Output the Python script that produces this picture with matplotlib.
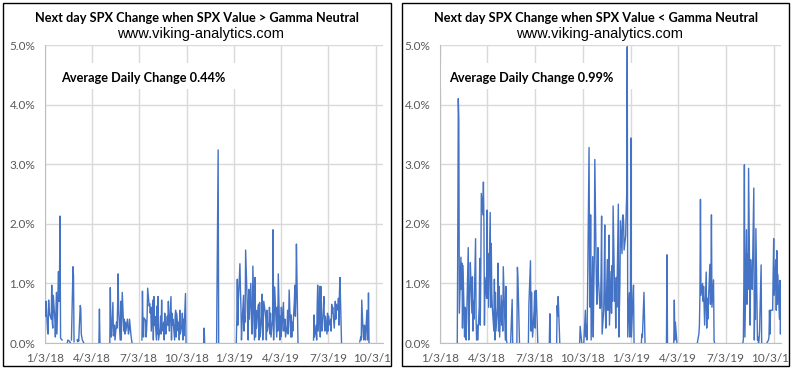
import numpy as np
import pandas as pd
import matplotlib
matplotlib.use('Agg')
import matplotlib.pyplot as plt
from matplotlib.patches import Rectangle
from matplotlib.transforms import Bbox, TransformedBbox

# axis setup
tick_dates = ['2018-01-03', '2018-04-03', '2018-07-03', '2018-10-03',
              '2019-01-03', '2019-04-03', '2019-07-03', '2019-10-03']
tick_labels = ['1/3/18', '4/3/18', '7/3/18', '10/3/18',
               '1/3/19', '4/3/19', '7/3/19', '10/3/19']
x_start, x_end = '2018-01-03', '2019-10-17'

titles = ['Next day SPX Change when SPX Value > Gamma Neutral',
          'Next day SPX Change when SPX Value < Gamma Neutral']
subtitle = 'www.viking-analytics.com'
notes = ['Average Daily Change 0.44%', 'Average Daily Change 0.99%']

# next-day abs change (%) when SPX above gamma neutral, one list per run of days
above_starts = ['2018-01-03', '2018-02-15', '2018-02-23', '2018-03-06', '2018-04-17',
                '2018-05-08', '2018-07-09', '2018-11-05', '2018-11-30', '2019-01-07',
                '2019-06-05', '2019-09-02']
above_vals = [
    [0.64, 0.45, 0.70, 0.20, 0.15, 0.72, 0.55, 0.48, 0.40, 0.97, 0.35, 0.25, 0.80, 0.40,
     0.10, 0.45, 0.85, 0.15, 1.20, 0.70, 1.12, 2.13, 0.08, 0.05],
    [0.0, 0.05, 0.03, 0.02, 0.0],
    [0.05, 1.28, 1.12, 0.02],
    [0.05, 0.02, 0.06, 0.03, 0.63, 0.58, 0.15, 0.10, 0.05, 0.0],
    [0.0, 0.57, 0.0],
    [0.0, 0.93, 0.15, 0.10, 0.68, 0.12, 0.20, 0.30, 0.05, 0.35, 0.25, 0.60, 1.16, 0.55,
     0.05, 0.70, 0.05, 0.40, 0.85, 0.20, 0.40, 0.15, 0.35, 0.20, 0.40, 0.25, 0.15, 0.20,
     0.40, 0.12, 0.05, 0.0],
    [0.05, 0.87, 0.30, 0.10, 0.42, 0.38, 0.10, 0.22, 0.45, 0.92, 0.62, 0.66, 0.50, 0.60,
     0.20, 0.72, 0.05,
     0.78, 0.30, 0.45, 0.05, 0.62, 0.15, 0.78, 0.05, 0.25, 0.45, 0.15, 0.72, 0.20, 0.35,
     0.05, 0.50, 0.25, 0.15, 0.45, 0.30, 0.70, 0.35, 0.20,
     0.78, 0.05, 0.50, 0.30, 0.40, 0.05, 0.45, 0.55, 0.10, 0.50, 0.20, 0.35, 0.05, 0.55,
     0.15, 0.30, 0.50, 0.05, 0.40, 0.12,
     0.83, 0.0],
    [0.0, 0.25, 0.0],
    [0.0, 3.24, 0.0],
    [0.0, 0.40, 1.07, 0.30, 0.70, 1.33, 0.90, 0.60, 0.05, 0.30, 0.80, 0.20, 0.45, 0.35,
     1.56, 0.70, 0.30, 0.05, 0.90, 0.40, 1.00, 0.50, 0.15, 0.30, 1.29, 0.05, 1.10, 0.10,
     0.55, 0.25, 0.60,
     0.65, 0.05, 0.68, 0.10, 0.45, 0.82, 0.05, 0.30, 0.70, 0.50,
     0.40, 0.05, 0.55, 0.20, 0.35, 0.60, 0.15, 0.50, 0.10, 0.40,
     1.90, 0.05, 0.55, 0.94, 0.30, 0.10, 0.60, 0.20, 1.16, 0.05,
     0.45, 0.10, 0.60, 0.20, 0.68, 0.20, 0.25, 0.40, 0.10, 0.30,
     0.55, 0.15, 0.40, 0.89, 0.10, 0.47, 0.10, 0.35, 0.20, 0.70,
     0.97, 0.45, 0.80, 1.66, 0.0],
    [0.05, 0.47, 0.10, 0.30, 0.05, 0.60, 0.97, 0.20, 0.95, 0.10, 0.95, 0.30, 0.20, 0.60,
     0.78, 0.30, 0.20, 0.45, 0.15, 0.50, 0.20, 0.45, 0.30, 0.40, 0.20, 0.65, 0.50, 0.60,
     0.25, 0.45, 0.70, 0.40, 0.65, 0.55, 0.75, 0.30, 0.85, 1.10, 0.0],
    [0.02, 0.05, 0.10, 0.05, 0.72, 0.10, 0.05, 0.30, 0.28, 0.05, 0.55, 0.05, 0.10, 0.84, 0.0],
]

# next-day abs change (%) when SPX below gamma neutral
below_starts = ['2018-02-05', '2018-05-18', '2018-05-30', '2018-06-21', '2018-07-31',
                '2018-08-14', '2018-09-27', '2018-10-05', '2019-01-23', '2019-03-12',
                '2019-03-26', '2019-05-10', '2019-08-05', '2019-09-20']
below_vals = [
    [0.0, 1.80, 4.10, 3.75, 0.50, 1.44, 0.90, 1.34, 0.25, 1.30, 0.10, 0.60, 0.55, 0.05,
     0.40, 1.60, 0.05, 0.45, 0.90, 1.35, 0.50, 1.11, 0.20, 0.70, 0.40, 1.75, 0.40, 0.05,
     0.30, 0.05, 0.60, 1.42, 0.30, 1.20, 2.51, 2.15, 2.70, 2.00, 0.30, 1.10, 0.75, 2.23,
     0.75, 1.50, 0.60, 2.19, 0.60, 1.67, 0.85, 0.60, 0.20, 1.07, 0.05, 0.85, 0.20, 0.60,
     1.34, 0.20, 0.95, 0.10, 0.80, 0.30, 0.70, 0.20, 1.28, 0.40, 0.05, 0.95, 0.05, 0.0],
    [0.0, 0.73, 0.0],
    [0.0, 1.27, 1.10, 0.0],
    [0.0, 0.65, 1.38, 0.20, 0.85, 0.40, 0.10, 0.55, 0.87, 0.25, 0.88, 0.88, 0.0],
    [0.0, 0.49, 0.0],
    [0.0, 0.63, 0.45, 0.78, 0.0],
    [0.0, 0.28, 0.0],
    [0.0, 0.55, 0.10, 0.30, 0.05, 0.70, 3.28, 1.20, 0.60, 2.15, 0.05, 1.45, 0.10, 0.90,
     1.40, 3.08, 1.00, 0.65, 1.05, 1.60, 1.05, 0.58, 0.60, 1.20, 2.13, 0.15, 0.55, 1.10,
     1.98, 0.65, 0.25, 1.40, 0.55, 1.00, 1.81, 0.30, 1.20, 0.50, 1.30, 0.70, 2.30, 0.70,
     1.00, 0.25, 1.10, 0.60, 2.33, 0.10, 0.55, 1.00, 2.05, 1.50, 2.10, 2.15, 2.06, 1.56,
     1.80, 2.20, 2.50, 4.97, 0.10, 0.84, 0.10, 0.60, 3.44, 0.10, 0.80, 0.97, 0.0],
    [0.0, 0.15, 0.10, 0.85, 0.40, 0.0],
    [0.0, 1.48, 0.0],
    [0.0, 0.72, 0.05, 0.35, 0.0],
    [0.0, 0.15, 0.30, 0.80, 2.41, 0.80, 1.00, 0.70, 0.95, 0.60, 0.30, 1.19, 0.25, 0.75,
     0.40, 0.65, 1.32, 0.65, 0.90, 2.15, 0.60, 1.06, 0.05, 0.0],
    [0.0, 0.05, 1.00, 2.99, 0.10, 1.90, 0.65, 1.50, 0.90, 2.93, 0.30, 1.40, 1.00, 1.20,
     0.90, 2.60, 0.05, 0.80, 0.40, 1.92, 0.05, 0.10, 0.0, 0.05, 0.20, 1.31, 0.0],
    [0.0, 0.05, 0.10, 0.55, 0.15, 0.55, 0.55, 0.55, 1.15, 1.75, 0.80, 1.40, 0.55, 1.55,
     0.65, 1.15, 0.40, 1.05, 0.15, 1.00],
]


def build(starts, vals):
    days = pd.bdate_range(x_start, x_end)
    s = pd.Series(np.nan, index=days)
    for st, v in zip(starts, vals):
        s.loc[pd.bdate_range(st, periods=len(v))] = v
    return s


W, H = 796, 371
fig = plt.figure(figsize=(W / 100, H / 100), dpi=100)

# panel boxes (pixels: left, top, right, bottom)
boxes = [(3, 3, 391, 366), (402, 3, 789, 366)]
plot_areas = [(45, 45, 383, 343), (440, 45, 781, 343)]
note_x = [61, 449]
series = [build(above_starts, above_vals), build(below_starts, below_vals)]

for i in range(2):
    l, t, r, b = boxes[i]
    fig.patches.append(Rectangle((l / W, 1 - b / H), (r - l) / W, (b - t) / H,
                                 transform=fig.transFigure, fill=False,
                                 edgecolor='black', lw=1.0))
    cx = (l + r) / 2 / W
    fig.text(cx, 1 - 18 / H, titles[i], ha='center', va='center',
             family='Lato', weight='bold', size=9.2, color='black')
    fig.text(cx + 4 / W, 1 - 34 / H, subtitle, ha='center', va='center',
             family='Liberation Sans', size=10.5, color='black')

    pl, pt, pr, pb = plot_areas[i]
    ax = fig.add_axes([pl / W, 1 - pb / H, (pr - pl) / W, (pb - pt) / H])
    s = series[i]
    ax.plot(s.index, s.values, color='#4472C4', lw=1.0, zorder=3)

    ax.set_xlim(pd.Timestamp(x_start), pd.Timestamp(x_end))
    ax.set_ylim(0, 5)
    ax.set_yticks(np.arange(0, 5.01, 1))
    ax.set_yticklabels(['{:.1f}%'.format(v) for v in np.arange(0, 5.01, 1)])
    ax.set_xticks(pd.to_datetime(tick_dates))
    ax.set_xticklabels(tick_labels)
    ax.set_axisbelow(True)
    ax.grid(color='#d9d9d9', lw=1.0)
    for sp in ['top', 'right']:
        ax.spines[sp].set_visible(False)
    for sp in ['left', 'bottom']:
        ax.spines[sp].set_color('#bfbfbf')
    ax.tick_params(length=0, labelsize=8.5, labelcolor='#595959', pad=7)
    # the last date label is cut by the panel frame, as in Excel
    clip = TransformedBbox(Bbox([[l / W, 1 - b / H], [(r - 1) / W, 1 - t / H]]),
                           fig.transFigure)
    for lab in ax.get_xticklabels() + ax.get_yticklabels():
        lab.set_family('Lato')
        lab.set_clip_box(clip)
        lab.set_clip_on(True)

    # white text box hides the gridlines but not the data line
    nx = note_x[i]
    ax.add_patch(Rectangle(((nx - 10) / W, 1 - 89 / H), 200 / W, 26 / H,
                           transform=fig.transFigure, facecolor='white',
                           edgecolor='none', zorder=2))
    fig.text(nx / W, 1 - 78 / H, notes[i], ha='left', va='center',
             family='Lato', weight='bold', size=9.2, color='black')

fig.savefig('out.png', dpi=100)
